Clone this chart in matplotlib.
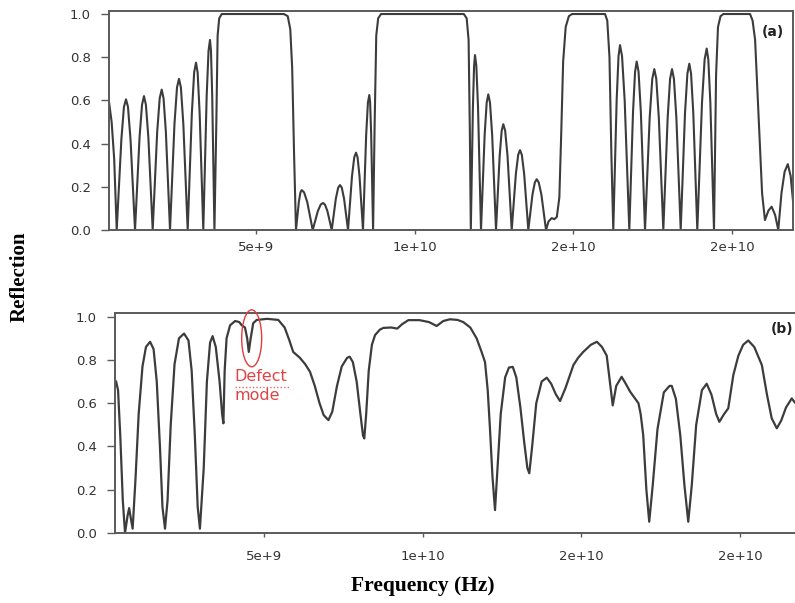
import matplotlib
matplotlib.use('Agg')
import matplotlib.pyplot as plt
from matplotlib.patches import Ellipse

# ---- data (frequency in GHz, reflection 0..1) ----
# (a) periodic structure
top_freq = [0.37, 0.45, 0.53, 0.61,
            0.757, 0.838, 0.903, 0.965, 1.045, 1.187,
            1.33, 1.408, 1.47, 1.53, 1.607, 1.744,
            1.886, 1.965, 2.028, 2.086, 2.159, 2.29,
            2.43, 2.51, 2.573, 2.633, 2.71, 2.847,
            2.978, 3.051, 3.109, 3.16, 3.224, 3.339,
            3.445, 3.504, 3.55, 3.581, 3.62, 3.69,
            3.75, 3.79, 3.84, 3.92, 5.88, 6.0, 6.08, 6.14, 6.20, 6.26,
            6.35, 6.40, 6.44, 6.516, 6.614, 6.787,
            6.95, 7.04, 7.112, 7.172, 7.25, 7.386,
            7.517, 7.59, 7.647, 7.703, 7.774, 7.9,
            8.026, 8.097, 8.152, 8.2, 8.262, 8.372,
            8.472, 8.527, 8.571, 8.597, 8.63, 8.69,
            8.74, 8.79, 8.85, 8.94, 11.55, 11.64, 11.70, 11.74, 11.77,
            11.836, 11.873, 11.902, 11.944, 11.997, 12.091,
            12.206, 12.27, 12.321, 12.374, 12.443, 12.564,
            12.679, 12.743, 12.794, 12.852, 12.927, 13.059,
            13.19, 13.263, 13.32, 13.378, 13.451, 13.582,
            13.714, 13.788, 13.846, 13.911, 13.993, 14.14,
            14.22, 14.32, 14.40, 14.48,
            14.56, 14.62, 14.68, 14.76, 14.86, 14.96, 16.0, 16.07, 16.14, 16.20, 16.26,
            16.366, 16.425, 16.472, 16.536, 16.619, 16.765,
            16.882, 16.947, 16.998, 17.056, 17.129, 17.26,
            17.407, 17.489, 17.553, 17.615, 17.695, 17.837,
            17.974, 18.05, 18.111, 18.171, 18.248, 18.385,
            18.52, 18.596, 18.656, 18.711, 18.782, 18.908,
            19.056, 19.139, 19.204, 19.255, 19.319, 19.434,
            19.50, 19.56, 19.64, 19.73, 20.57, 20.65, 20.73, 20.84, 20.95, 21.04,
            21.15, 21.25, 21.36, 21.46, 21.56, 21.66, 21.76, 21.85, 21.93]
top_refl = [0.59, 0.50, 0.33, 0.0,
            0.42, 0.57, 0.605, 0.57, 0.42, 0.0,
            0.43, 0.58, 0.62, 0.58, 0.43, 0.0,
            0.455, 0.61, 0.65, 0.61, 0.455, 0.0,
            0.49, 0.66, 0.70, 0.66, 0.49, 0.0,
            0.54, 0.73, 0.775, 0.73, 0.54, 0.0,
            0.62, 0.83, 0.88, 0.83, 0.62, 0.0,
            0.5, 0.9, 0.98, 1.0, 1.0, 0.99, 0.93, 0.75, 0.35, 0.0,
            0.13, 0.174, 0.185, 0.174, 0.13, 0.0,
            0.088, 0.118, 0.125, 0.118, 0.088, 0.0,
            0.146, 0.196, 0.208, 0.196, 0.146, 0.0,
            0.25, 0.337, 0.358, 0.337, 0.25, 0.0,
            0.44, 0.59, 0.625, 0.59, 0.44, 0.0,
            0.5, 0.9, 0.98, 1.0, 1.0, 0.98, 0.88, 0.45, 0.0,
            0.57, 0.76, 0.81, 0.76, 0.57, 0.0,
            0.44, 0.59, 0.628, 0.59, 0.44, 0.0,
            0.343, 0.46, 0.49, 0.46, 0.343, 0.0,
            0.26, 0.348, 0.37, 0.348, 0.26, 0.0,
            0.165, 0.22, 0.235, 0.22, 0.165, 0.0,
            0.04, 0.055, 0.05, 0.06,
            0.15, 0.45, 0.78, 0.94, 0.99, 1.0, 1.0, 0.97, 0.8, 0.35, 0.0,
            0.6, 0.805, 0.856, 0.805, 0.6, 0.0,
            0.546, 0.733, 0.78, 0.733, 0.546, 0.0,
            0.52, 0.70, 0.745, 0.70, 0.52, 0.0,
            0.52, 0.70, 0.745, 0.70, 0.52, 0.0,
            0.54, 0.724, 0.77, 0.724, 0.54, 0.0,
            0.59, 0.79, 0.84, 0.79, 0.59, 0.0,
            0.72, 0.94, 0.99, 1.0, 1.0, 0.97, 0.88, 0.52, 0.17, 0.046,
            0.09, 0.108, 0.07, 0.0, 0.17, 0.27, 0.305, 0.25, 0.125]

# (b) structure with defect layer
bot_freq = [0.34, 0.40, 0.47, 0.55, 0.62, 0.70, 0.75, 0.80, 0.86,
            0.95, 1.05, 1.17, 1.28, 1.41, 1.52, 1.62, 1.72, 1.80, 1.88,
            1.96, 2.06, 2.18, 2.32, 2.48, 2.62, 2.72, 2.82, 2.91, 2.98,
            3.10, 3.20, 3.30, 3.38, 3.48, 3.60, 3.68, 3.72,
            3.76, 3.82, 3.93, 4.09, 4.22, 4.30, 4.40, 4.47, 4.52, 4.58, 4.66,
            4.77, 5.10, 5.45, 5.65, 5.80, 5.92, 6.13, 6.30, 6.45, 6.60,
            6.75, 6.88, 7.03, 7.15, 7.30, 7.45, 7.62, 7.70, 7.80, 7.92,
            8.03, 8.12, 8.16, 8.22, 8.30, 8.40, 8.50, 8.65, 8.76, 9.0,
            9.2, 9.35, 9.55, 9.9, 10.2, 10.44, 10.65, 10.86, 11.1, 11.28,
            11.5, 11.70, 11.85, 11.965, 12.05, 12.12, 12.20, 12.28,
            12.36, 12.46, 12.60, 12.72, 12.84, 12.95, 13.08, 13.20, 13.30,
            13.36, 13.45, 13.58, 13.75, 13.91, 14.05, 14.20, 14.33,
            14.50, 14.64, 14.75, 14.9, 15.06, 15.3, 15.49, 15.65, 15.80,
            15.90, 15.99, 16.10, 16.27, 16.40, 16.54, 16.70, 16.80, 16.87,
            16.95, 17.05, 17.14, 17.25, 17.40, 17.60, 17.78, 17.85, 17.98,
            18.12, 18.25, 18.37, 18.48, 18.62, 18.80, 18.95, 19.10, 19.25,
            19.35, 19.50, 19.63, 19.79, 19.95, 20.10, 20.26, 20.45, 20.69,
            20.85, 21.0, 21.16, 21.30, 21.45, 21.63, 21.75]
bot_refl = [0.70, 0.66, 0.45, 0.15, 0.0, 0.08, 0.115, 0.07, 0.02,
            0.25, 0.55, 0.77, 0.86, 0.884, 0.85, 0.70, 0.40, 0.12, 0.02,
            0.15, 0.50, 0.78, 0.90, 0.922, 0.89, 0.75, 0.45, 0.12, 0.02,
            0.30, 0.70, 0.88, 0.91, 0.86, 0.70, 0.55, 0.507,
            0.75, 0.90, 0.96, 0.98, 0.975, 0.96, 0.95, 0.90, 0.837, 0.90, 0.97,
            0.985, 0.99, 0.985, 0.95, 0.89, 0.837, 0.81, 0.78, 0.745, 0.68,
            0.60, 0.545, 0.522, 0.56, 0.68, 0.77, 0.81, 0.815, 0.79, 0.70,
            0.56, 0.45, 0.437, 0.55, 0.75, 0.87, 0.915, 0.94, 0.948, 0.95,
            0.945, 0.965, 0.984, 0.984, 0.975, 0.957, 0.98, 0.988, 0.985, 0.975,
            0.95, 0.90, 0.84, 0.79, 0.66, 0.485, 0.26, 0.106,
            0.30, 0.55, 0.72, 0.765, 0.768, 0.72, 0.58, 0.42, 0.30,
            0.276, 0.40, 0.60, 0.70, 0.718, 0.69, 0.64, 0.61,
            0.67, 0.73, 0.776, 0.81, 0.837, 0.87, 0.884, 0.86, 0.82,
            0.70, 0.59, 0.68, 0.722, 0.69, 0.653, 0.62, 0.60, 0.55,
            0.453, 0.20, 0.052, 0.22, 0.48, 0.65, 0.68, 0.68, 0.62,
            0.45, 0.22, 0.052, 0.22, 0.50, 0.66, 0.69, 0.64, 0.55,
            0.514, 0.55, 0.576, 0.73, 0.82, 0.87, 0.89, 0.86, 0.776,
            0.64, 0.53, 0.484, 0.52, 0.58, 0.622, 0.60]

xticks = [5e9, 10e9, 15e9, 20e9]
xticklabels = ['5e+9', '1e+10', '2e+10', '2e+10']
yticks = [0.0, 0.2, 0.4, 0.6, 0.8, 1.0]

W, H = 795, 603
fig = plt.figure(figsize=(W / 100, H / 100), dpi=100)
fig.patch.set_facecolor('white')

def px_axes(left, top, right, bottom):
    return fig.add_axes([left / W, 1 - bottom / H, (right - left) / W, (bottom - top) / H])

LINE = '#3c3c3c'
FRAME = '#5a5a5a'
RED = '#dd4444'

ax1 = px_axes(109, 11, 793, 230)
ax2 = px_axes(115, 313, 799, 533)

ax1.plot([f * 1e9 for f in top_freq], top_refl, color=LINE, lw=1.5, solid_joinstyle='round')
ax2.plot([f * 1e9 for f in bot_freq], bot_refl, color=LINE, lw=1.6, solid_joinstyle='round')

ax1.set_xlim(0.367e9, 21.924e9)
ax1.set_ylim(0, 1.014)
ax2.set_xlim(0.304e9, 21.86e9)
ax2.set_ylim(0, 1.017)

for ax, xpad in [(ax1, 5), (ax2, 9)]:
    ax.set_xticks(xticks)
    ax.set_xticklabels(xticklabels)
    ax.set_yticks(yticks)
    ax.set_yticklabels([f'{v:.1f}' for v in yticks])
    ax.tick_params(axis='y', direction='out', length=6, width=1, color=FRAME,
                   pad=7, labelsize=9.5, labelcolor='#333333')
    ax.tick_params(axis='x', direction='out', length=3, width=1, color=FRAME,
                   pad=xpad, labelsize=9.5, labelcolor='#333333')
    for s in ax.spines.values():
        s.set_color(FRAME)
        s.set_linewidth(1.4)

ax1.text(773 / W, 1 - 32 / H, '(a)', transform=fig.transFigure, ha='center', va='center',
         fontsize=10, weight='bold', color='#222222')
ax2.text(782 / W, 1 - 329 / H, '(b)', transform=fig.transFigure, ha='center', va='center',
         fontsize=10, weight='bold', color='#222222')

# defect mode marker
ax2.add_patch(Ellipse((4.612e9, 0.90), 0.63e9, 0.263, fill=False, edgecolor='#e23b3b',
                      lw=1.0, clip_on=False, zorder=5))
fig.text(234 / W, 1 - 369 / H, 'Defect\nmode', ha='left', va='top', fontsize=11.5,
         color=RED, linespacing=1.35)
# spell-check style squiggle under "Defect"
fig.add_artist(plt.Line2D([235 / W, 290 / W], [1 - 387 / H, 1 - 387 / H], color=RED,
                          lw=1.0, ls=(0, (1, 1.5)), alpha=0.8))

fig.text(20 / W, 1 - 277 / H, 'Reflection', rotation=90, ha='center', va='center',
         family='Liberation Serif', weight='bold', fontsize=15)
fig.text(423 / W, 1 - 586 / H, 'Frequency (Hz)', ha='center', va='center',
         family='Liberation Serif', weight='bold', fontsize=15.5)

fig.savefig('out.png', dpi=100, facecolor='white')
